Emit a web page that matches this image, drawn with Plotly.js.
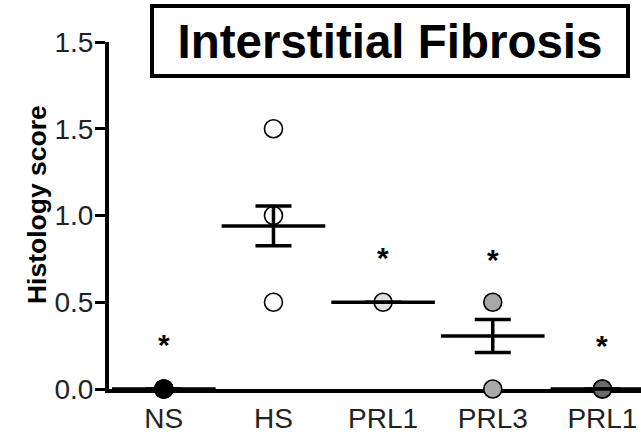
<!DOCTYPE html>
<html>
<head>
<meta charset="utf-8">
<script src="https://cdn.plot.ly/plotly-3.0.1.min.js"></script>
<style>html,body{margin:0;padding:0;background:#fff}#chart{width:641px;height:448px}</style>
</head>
<body>
<div id="chart"></div>
<script>
// ---- data ----
const categories = ["NS", "HS", "PRL1", "PRL3", "PRL1"];
const categoryPos = [0, 1, 2, 3, 4];
const nsPoints = [0, 0, 0];
const hsPoints = [1.5, 1.0, 0.5];
const prl1Points = [0.5];
const prl3Points = [0.5, 0];
const prl1bPoints = [0, 0];
const groupMeans = [0, 0.94, 0.5, 0.305, 0];
const groupSEM = [0, 0.115, 0, 0.095, 0];
const starLevels = [0.27, null, 0.77, 0.76, 0.26];
const yTickVals = [0, 0.5, 1.0, 1.5, 2.0];
const yTickText = ["0.0", "0.5", "1.0", "1.5", "1.5"];
const chartTitle = "Interstitial Fibrosis";
const yTitle = "Histology score";

const groups = [
  {pts: nsPoints, fill: "#000000"},
  {pts: hsPoints, fill: "#ffffff"},
  {pts: prl1Points, fill: "#e2e2e2"},
  {pts: prl3Points, fill: "#a8a8a8"},
  {pts: prl1bPoints, fill: "#6a6a6a"}
];

const traces = [];
groups.forEach((g, i) => {
  traces.push({
    type: "scatter", mode: "markers",
    x: g.pts.map(() => categoryPos[i]), y: g.pts,
    cliponaxis: false, hoverinfo: "skip", showlegend: false,
    marker: {symbol: "circle", size: 18, color: g.fill, line: {color: "#000", width: 1.6}}
  });
});
traces.push({
  type: "scatter", mode: "markers",
  x: categoryPos, y: groupMeans, cliponaxis: false, showlegend: false, hoverinfo: "skip",
  marker: {symbol: "line-ew", size: 74, color: "#000", line: {color: "#000", width: 3.5}},
  error_y: {type: "data", array: groupSEM, visible: true, color: "#000", thickness: 3.5, width: 18}
});

const starAnnotations = [];
starLevels.forEach((v, i) => {
  if (v === null) return;
  starAnnotations.push({
    xref: "x", yref: "y", x: categoryPos[i], y: v, text: "<b>*</b>",
    showarrow: false, xanchor: "center", yanchor: "middle", yshift: -2,
    font: {family: "Liberation Sans, Arial, sans-serif", size: 30, color: "#000"}
  });
});

const layout = {
  width: 641, height: 448,
  margin: {l: 109, r: 0, t: 42, b: 59},
  paper_bgcolor: "#fff", plot_bgcolor: "#fff",
  font: {family: "Liberation Sans, Arial, sans-serif", color: "#222"},
  xaxis: {
    range: [-0.5, 4.352], showgrid: false, zeroline: false,
    showline: true, linewidth: 4, linecolor: "#000", layer: "below traces",
    tickmode: "array", tickvals: categoryPos, ticktext: categories,
    ticks: "outside", ticklen: 1, tickcolor: "rgba(0,0,0,0)",
    tickfont: {size: 28, color: "#222"}
  },
  yaxis: {
    range: [0, 2.0], showgrid: false, zeroline: false,
    showline: true, linewidth: 4, linecolor: "#000", layer: "below traces",
    tickmode: "array", tickvals: yTickVals, ticktext: yTickText,
    ticks: "outside", ticklen: 10, tickwidth: 3, tickcolor: "#000",
    ticklabelstandoff: -4,
    tickfont: {size: 28, color: "#222"}
  },
  annotations: [{
    xref: "paper", yref: "paper", x: 0.528, y: 1.003,
    xanchor: "center", yanchor: "middle",
    text: "<b>" + chartTitle + "</b>", showarrow: false,
    font: {size: 47.5, color: "#000"},
    width: 468, height: 62, bgcolor: "#fff",
    bordercolor: "#000", borderwidth: 4, borderpad: 2
  }, {
    xref: "paper", yref: "paper", x: -0.1353, y: 0.530,
    xanchor: "center", yanchor: "middle", textangle: -90,
    text: "<b>" + yTitle + "</b>", showarrow: false,
    font: {size: 26.5, color: "#000"}
  }].concat(starAnnotations)
};

Plotly.newPlot("chart", traces, layout, {displayModeBar: false, staticPlot: true});
</script>
</body>
</html>
